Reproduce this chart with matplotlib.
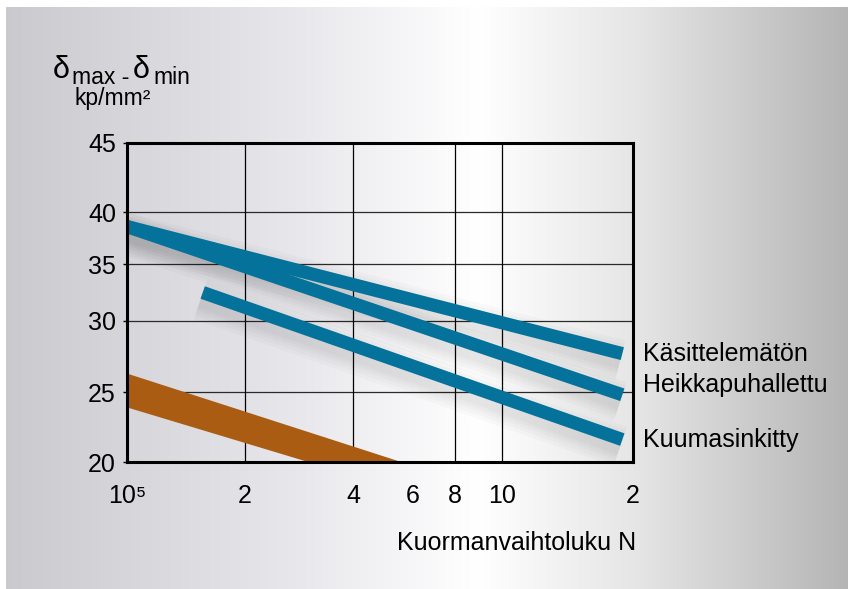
import numpy as np
import matplotlib.pyplot as plt
from matplotlib import patheffects as pe

plt.rcParams['font.family'] = ['Liberation Sans', 'DejaVu Sans']

# Kestoraja-nauhat (N, sigma_max - sigma_min kp/mm2), luettu kuvasta
kasittelematon_n = [1.0e5, 1.89e6]
kasittelematon_s = [38.6, 27.7]
heikkapuhallettu_n = [1.0e5, 1.89e6]
heikkapuhallettu_s = [38.6, 24.8]
kuumasinkitty_n = [1.56e5, 1.89e6]
kuumasinkitty_s = [32.5, 21.6]

# ruskea alue: ylä- ja alareuna
brown_top_n = [1.0e5, 5.55e5]
brown_top_s = [26.3, 20.0]
brown_bot_n = [1.0e5, 3.0e5]
brown_bot_s = [23.9, 20.0]

series_names = ["Käsittelemätön", "Heikkapuhallettu", "Kuumasinkitty"]

x_tick_vals = [1e5, 2e5, 4e5, 6e5, 8e5, 1e6, 2e6]
x_tick_labels = ["10⁵", "2", "4", "6", "8", "10", "2"]
x_grid_vals = [2e5, 4e5, 8e5, 1e6]
y_tick_vals = [20, 25, 30, 35, 40, 45]
y_tick_labels = ["20", "25", "30", "35", "40", "45"]

# alkuperäisen käsin piirretyn ruudukon epätasainen jako
x_knot_n = [1e5, 2e5, 4e5, 8e5, 1e6, 2e6]
x_knot_pos = [127, 245, 353, 455, 502, 633]
y_knot_v = [20, 25, 30, 35, 40, 45]
y_knot_pos = [0, 70, 141, 198, 250, 319]


def pw(x, xp, fp):
    x = np.asarray(x, float)
    xp = np.asarray(xp, float)
    fp = np.asarray(fp, float)
    y = np.interp(x, xp, fp)
    lo_slope = (fp[1] - fp[0]) / (xp[1] - xp[0])
    hi_slope = (fp[-1] - fp[-2]) / (xp[-1] - xp[-2])
    y = np.where(x < xp[0], fp[0] + (x - xp[0]) * lo_slope, y)
    y = np.where(x > xp[-1], fp[-1] + (x - xp[-1]) * hi_slope, y)
    return y


def fx(n):
    with np.errstate(divide='ignore', invalid='ignore'):
        ln = np.log10(np.clip(np.asarray(n, float), 1e-300, None))
    return pw(ln, np.log10(x_knot_n), x_knot_pos)


def fx_inv(p):
    return 10 ** pw(p, x_knot_pos, np.log10(x_knot_n))


def fy(v):
    return pw(v, y_knot_v, y_knot_pos)


def fy_inv(p):
    return pw(p, y_knot_pos, y_knot_v)


W, H = 848, 589
fig = plt.figure(figsize=(W / 100, H / 100), dpi=100)
fig.patch.set_facecolor('white')

# taustan liukuväri
bg = fig.add_axes([6 / W, 0, 1 - 6 / W, 1 - 7 / H])
xs = np.linspace(0, 1, 600)
stops = [0.0, 0.3, 0.56, 0.75, 1.0]
r = np.interp(xs, stops, [0.79, 0.89, 1.0, 0.90, 0.71])
b = np.interp(xs, stops, [0.81, 0.91, 1.0, 0.90, 0.71])
grad = np.dstack([r, r, b])
bg.imshow(grad, extent=[0, 1, 0, 1], aspect='auto', interpolation='bilinear')
bg.axis('off')

ax = fig.add_axes([127 / W, 1 - 462 / H, 506 / W, 319 / H])
ax.set_facecolor('none')
ax.set_xscale('function', functions=(fx, fx_inv))
ax.set_yscale('function', functions=(fy, fy_inv))
ax.set_xlim(1e5, 2e6)
ax.set_ylim(20, 45)

ax.set_xticks(x_tick_vals, x_tick_labels)
ax.set_yticks(y_tick_vals, y_tick_labels)
ax.tick_params(axis='x', which='both', length=0, labelsize=18, pad=16)
ax.tick_params(axis='y', which='major', length=3, width=1, labelsize=18, pad=5)
ax.grid(axis='y', which='major', color='#2a2a2a', lw=0.9)
for xv in x_grid_vals:
    ax.axvline(xv, color='black', lw=0.9, zorder=1)
ax.set_axisbelow(True)
for sp in ax.spines.values():
    sp.set_linewidth(2.2)
    sp.set_zorder(5)

blue = '#04729a'
brown = '#ab5c13'

ax.fill(brown_top_n + brown_bot_n[::-1], brown_top_s + brown_bot_s[::-1],
        color=brown, lw=0, zorder=2)

series = [(kasittelematon_n, kasittelematon_s),
          (heikkapuhallettu_n, heikkapuhallettu_s),
          (kuumasinkitty_n, kuumasinkitty_s)]

# pehmeä varjo nauhojen alla
shadow = [pe.Stroke(offset=(-1.5, -5), linewidth=w, foreground='black', alpha=0.02)
          for w in (30, 25, 20, 16, 12)]
for n, s in series:
    ax.plot(n, s, color='none', lw=9.5, solid_capstyle='butt',
            path_effects=shadow, zorder=2.5)
for n, s in series:
    ax.plot(n, s, color=blue, lw=9.5, solid_capstyle='butt', zorder=3)

label_dy = [0, 7, 0]
for (n, s), name, dy in zip(series, series_names, label_dy):
    ax.annotate(name, xy=(n[-1], s[-1]), xytext=(15, dy),
                textcoords='offset points', ha='left', va='center',
                fontsize=18, annotation_clip=False)


# akselien otsikot
def ftxt(x, y, s, **kw):
    fig.text(x / W, 1 - y / H, s, va='baseline', ha='left', **kw)


ftxt(53, 78, "δ", fontsize=22)
ftxt(72, 84, "max -", fontsize=16.5)
ftxt(133, 78, "δ", fontsize=22)
ftxt(153, 84, "min", fontsize=16.5)
ftxt(74, 105, "kp/mm²", fontsize=16.5)

fig.text(636 / W, 1 - 543 / H, "Kuormanvaihtoluku N", ha='right', va='center',
         fontsize=18)

fig.savefig("out.png", dpi=100)
